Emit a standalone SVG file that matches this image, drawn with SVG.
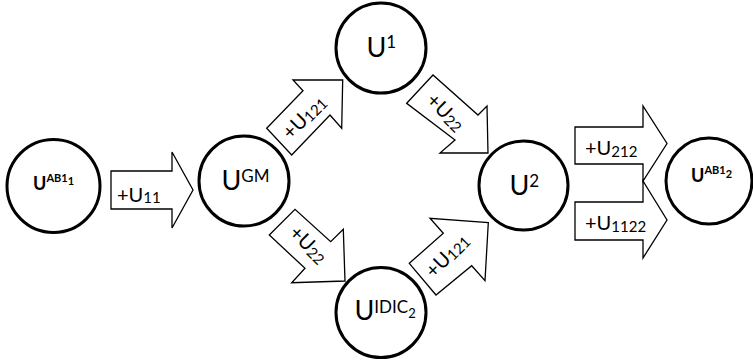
<svg xmlns="http://www.w3.org/2000/svg" width="753" height="360" viewBox="0 0 753 360">
  <defs>
    <style>
      .node circle { fill: #ffffff; stroke: #000000; stroke-width: 3; }
      .arrow { fill: #ffffff; stroke: #000000; stroke-width: 1.3; stroke-linejoin: miter; }
      text { font-family: Lato, "Open Sans", sans-serif; fill: #000000; }
      .big { font-size: 27px; }
      .sup { font-size: 17px; }
      .sub { font-size: 13px; }
      .bold { font-weight: bold; }
      .lbl { font-size: 20px; }
      .lsub { font-size: 15px; }
    </style>
  </defs>

  <!-- transition arrows -->
  <g id="connectors">
    <g id="a-ab1-gm">
      <polygon class="arrow" points="111,171 172,171 172,152 193,190 172,228 172,209 111,209"/>
      <text x="117" y="201.5" class="lbl">+U<tspan class="lsub" dy="1.5">11</tspan></text>
    </g>
    <g id="a-gm-u1">
      <polygon class="arrow" points="266.7,128.3 303,90.7 293,80 342.7,80 341.7,128.3 330,115 291.7,155"/>
      <text transform="translate(290.6,140.5) rotate(-45)" class="lbl">+U<tspan class="lsub" dy="1.5">121</tspan></text>
    </g>
    <g id="a-u1-u2">
      <polygon class="arrow" points="406.7,103.3 433,75 478,115 487,106 488,153 440,153 455,140"/>
      <text transform="translate(425.3,101.6) rotate(45)" class="lbl">+U<tspan class="lsub" dy="1.5">22</tspan></text>
    </g>
    <g id="a-gm-idic">
      <polygon class="arrow" points="269.3,235 295,209.3 330.7,241.7 343.3,229.3 345,281 291.7,282.7 305,268.3"/>
      <text transform="translate(288,233.9) rotate(45)" class="lbl">+U<tspan class="lsub" dy="1.5">22</tspan></text>
    </g>
    <g id="a-idic-u2">
      <polygon class="arrow" points="409.3,263.3 443.3,233.3 430,218.3 488.3,222.7 485,280.7 471.7,265.7 436,295"/>
      <text transform="translate(433.6,278.9) rotate(-45)" class="lbl">+U<tspan class="lsub" dy="1.5">121</tspan></text>
    </g>
    <g id="a-u2-ab2-top">
      <polygon class="arrow" points="575,127 643,127 643,106 667,143.5 643,181 643,164 575,164"/>
      <text x="585" y="155" class="lbl">+U<tspan class="lsub" dy="1.5">212</tspan></text>
    </g>
    <g id="a-u2-ab2-bottom">
      <polygon class="arrow" points="575,202 643,202 643,181 667,220 643,258 643,240 575,240"/>
      <text x="585" y="230" class="lbl">+U<tspan class="lsub" dy="1.5">1122</tspan></text>
    </g>
  </g>

  <!-- states -->
  <g id="n-ab1-1" class="node">
    <circle cx="53.5" cy="186" r="46.5"/>
    <text x="33" y="189.5" class="bold" font-size="18">U<tspan font-size="11" dy="-8">AB1</tspan><tspan font-size="11" dy="3">1</tspan></text>
  </g>
  <g id="n-gm" class="node">
    <circle cx="244" cy="181" r="45"/>
    <text x="221.5" y="190" class="big">U<tspan class="sup" dy="-8.5">GM</tspan></text>
  </g>
  <g id="n-u1" class="node">
    <circle cx="381" cy="48" r="45"/>
    <text x="366.5" y="56.5" class="big">U<tspan class="sup" dy="-8.5">1</tspan></text>
  </g>
  <g id="n-u2" class="node">
    <circle cx="523.5" cy="185.5" r="44.5"/>
    <text x="509.5" y="195" class="big">U<tspan class="sup" dy="-8.5">2</tspan></text>
  </g>
  <g id="n-idic2" class="node">
    <circle cx="381" cy="312.5" r="45"/>
    <text x="354.5" y="320" class="big">U<tspan class="sup" dy="-7">IDIC</tspan><tspan class="sub" dy="4.7">2</tspan></text>
  </g>
  <g id="n-ab1-2" class="node">
    <circle cx="709" cy="181" r="43"/>
    <text x="691" y="182" class="bold" font-size="18">U<tspan font-size="11" dy="-8">AB1</tspan><tspan font-size="11" dy="3.5">2</tspan></text>
  </g>
</svg>
